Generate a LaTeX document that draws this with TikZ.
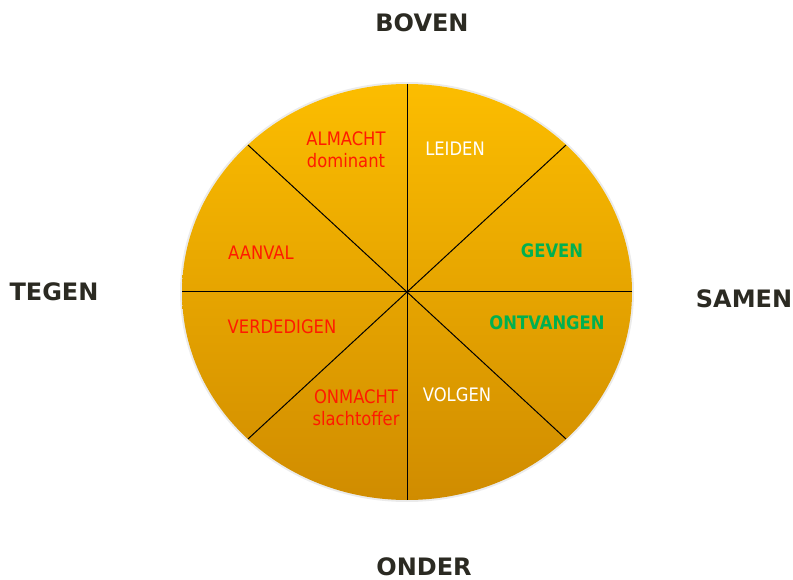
\documentclass[tikz,border=0pt]{standalone}
\usepackage{fontspec}
\usetikzlibrary{calc}
\setmainfont{DejaVu Sans}
\newfontfamily\innerfont[FakeStretch=0.88]{DejaVu Sans}
\newfontfamily\titlefont{DejaVu Sans}
\definecolor{toporange}{HTML}{FCBD00}
\definecolor{botorange}{HTML}{D08C00}
\definecolor{darktxt}{HTML}{2B2A22}
\definecolor{redtxt}{HTML}{FF1A00}
\definecolor{greentxt}{HTML}{00B050}
\begin{document}
\begin{tikzpicture}[x=1pt,y=-1pt,
  inner/.style={font=\innerfont\fontsize{18.6}{22}\selectfont, align=center, inner sep=0pt},
  innerbold/.style={inner, font=\innerfont\bfseries\fontsize{18.6}{22}\selectfont},
  outer/.style={font=\titlefont\bfseries\fontsize{24}{27}\selectfont, text=darktxt, inner sep=0pt},
  spoke/.style={draw=black, line width=1pt}]
\useasboundingbox (0,0) rectangle (793,580);
\coordinate (c) at (407,292);
% soft shadow
\fill[black, opacity=0.08] (c) ellipse [x radius=227, y radius=210];
\shade[top color=toporange, bottom color=botorange] (c) ellipse [x radius=225, y radius=208];
\foreach \i/\a in {0/0,1/45,2/90,3/135,4/180,5/225,6/270,7/315}{
  \coordinate (p\i) at ($(c)+({225*cos(\a)},{-208*sin(\a)})$);
}
\draw[spoke] (p0) -- (p4);
\draw[spoke] (p1) -- (p5);
\draw[spoke] (p2) -- (p6);
\draw[spoke] (p3) -- (p7);
% inner labels
\node[inner, text=redtxt] (almacht) at (346,150) {ALMACHT\\dominant};
\node[inner, text=white] (leiden) at (455,149) {LEIDEN};
\node[innerbold, text=greentxt] (geven) at (552,251) {GEVEN};
\node[inner, text=redtxt] (aanval) at (261,253) {AANVAL};
\node[inner, text=redtxt] (verdedigen) at (282,327) {VERDEDIGEN};
\node[innerbold, text=greentxt] (ontvangen) at (547,323) {ONTVANGEN};
\node[inner, text=redtxt] (onmacht) at (356,408) {ONMACHT\\slachtoffer};
\node[inner, text=white] (volgen) at (457,395) {VOLGEN};
% outer labels
\node[outer] (boven) at (422,23) {BOVEN};
\node[outer] (tegen) at (54,292) {TEGEN};
\node[outer] (samen) at (744,299) {SAMEN};
\node[outer] (onder) at (424,567) {ONDER};
\end{tikzpicture}
\end{document}
